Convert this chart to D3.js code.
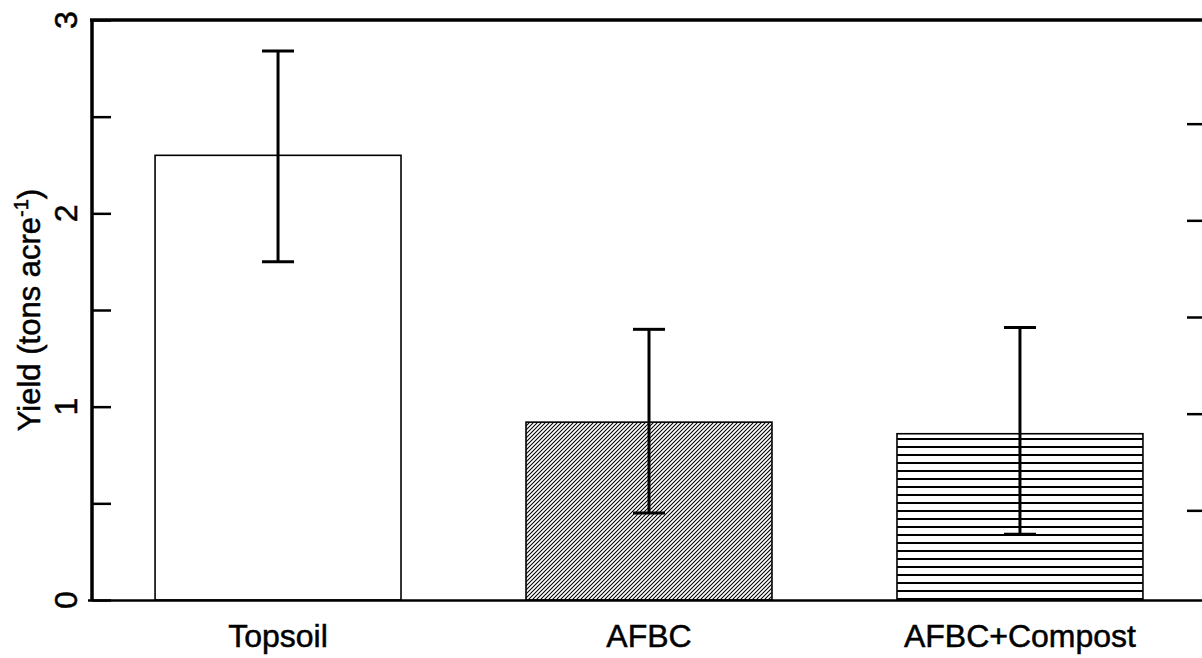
<!DOCTYPE html>
<html>
<head>
<meta charset="utf-8">
<script src="https://cdn.jsdelivr.net/npm/d3@7"></script>
<style>
  body { margin: 0; background: #fff; }
  text { font-family: "Liberation Sans", Arial, sans-serif; fill: #000; stroke: #000; stroke-width: 0.5px; }
</style>
</head>
<body>
<svg id="chart" width="1202" height="658"></svg>
<script>
var categories = ['Topsoil', 'AFBC', 'AFBC+Compost'];
var yields = [2.3, 0.92, 0.86];
var errLow = [1.75, 0.45, 0.34];
var errHigh = [2.84, 1.4, 1.41];
var fills = ['#fff', 'url(#diag)', 'url(#horiz)'];
var yTicks = [0, 1, 2, 3];
var yMinorTicks = [0.5, 1.5, 2.5];
var rightTicks = [0.5, 1, 1.5, 2, 2.5];

var svg = d3.select('#chart');

// hatch patterns
var defs = svg.append('defs');
var diag = defs.append('pattern')
  .attr('id', 'diag')
  .attr('patternUnits', 'userSpaceOnUse')
  .attr('width', 4).attr('height', 4);
diag.append('rect').attr('width', 4).attr('height', 4).attr('fill', '#fff');
diag.append('path')
  .attr('d', 'M-1,1 l2,-2 M0,4 l4,-4 M3,5 l2,-2')
  .attr('stroke', '#000').attr('stroke-width', 1.05);

var horiz = defs.append('pattern')
  .attr('id', 'horiz')
  .attr('patternUnits', 'userSpaceOnUse')
  .attr('width', 8).attr('height', 8)
  .attr('y', 3);
horiz.append('rect').attr('width', 8).attr('height', 8).attr('fill', '#fff');
horiz.append('line')
  .attr('x1', 0).attr('x2', 8).attr('y1', 4).attr('y2', 4)
  .attr('stroke', '#000').attr('stroke-width', 2);

var x = d3.scaleBand()
  .domain(categories)
  .range([92, 1206])
  .paddingInner(0.337)
  .paddingOuter(0.17);

var y = d3.scaleLinear().domain([0, 3]).range([600, 20]);
// the right-hand ticks sit a little lower in the original scan
var yRight = d3.scaleLinear().domain([0, 3]).range([607, 27]);

var data = categories.map(function(c, i) {
  return {name: c, v: yields[i], lo: errLow[i], hi: errHigh[i], fill: fills[i]};
});

// bars
svg.append('g')
  .selectAll('rect.bar')
  .data(data)
  .enter()
    .append('rect')
    .classed('bar', true)
    .attr('x', function(d) { return x(d.name); })
    .attr('y', function(d) { return y(d.v); })
    .attr('width', x.bandwidth())
    .attr('height', function(d) { return y(0) - y(d.v); })
    .attr('fill', function(d) { return d.fill; })
    .attr('stroke', '#000')
    .attr('stroke-width', 1.6);

// error bars
var eb = svg.append('g').attr('stroke', '#000').attr('stroke-width', 3);
data.forEach(function(d) {
  var cx = x(d.name) + x.bandwidth() / 2;
  eb.append('line').attr('x1', cx).attr('x2', cx).attr('y1', y(d.hi)).attr('y2', y(d.lo));
  eb.append('line').attr('x1', cx - 16).attr('x2', cx + 16).attr('y1', y(d.hi)).attr('y2', y(d.hi));
  eb.append('line').attr('x1', cx - 16).attr('x2', cx + 16).attr('y1', y(d.lo)).attr('y2', y(d.lo));
});

// left axis: inward ticks, rotated labels
var leftAxis = svg.append('g').attr('transform', 'translate(92,0)');
leftAxis.call(d3.axisRight(y).tickValues(yTicks.concat(yMinorTicks)).tickSize(19).tickFormat(''));
leftAxis.select('.domain').remove();
leftAxis.selectAll('.tick line').attr('stroke-width', 2.5);

svg.append('g')
  .selectAll('text.ylab')
  .data(yTicks)
  .enter()
    .append('text')
    .classed('ylab', true)
    .attr('transform', function(d) { return 'translate(77,' + y(d) + ') rotate(-90)'; })
    .attr('text-anchor', 'middle')
    .style('font-size', '32px')
    .text(function(d) { return d; });

// frame lines
svg.append('line').attr('x1', 92).attr('x2', 92).attr('y1', 19).attr('y2', 601)
  .attr('stroke', '#000').attr('stroke-width', 3.5);
svg.append('line').attr('x1', 90).attr('x2', 1202).attr('y1', 20).attr('y2', 20)
  .attr('stroke', '#000').attr('stroke-width', 3.5);
svg.append('line').attr('x1', 88).attr('x2', 1202).attr('y1', 600.5).attr('y2', 600.5)
  .attr('stroke', '#000').attr('stroke-width', 2.5);

// right-hand ticks
var rightAxis = svg.append('g').attr('transform', 'translate(1202,0)');
rightAxis.call(d3.axisLeft(yRight).tickValues(rightTicks).tickSize(15).tickFormat(''));
rightAxis.select('.domain').remove();
rightAxis.selectAll('.tick line').attr('stroke-width', 2.5);

// category labels
svg.append('g')
  .selectAll('text.xlab')
  .data(categories)
  .enter()
    .append('text')
    .classed('xlab', true)
    .attr('x', function(d) { return x(d) + x.bandwidth() / 2; })
    .attr('y', 647)
    .attr('text-anchor', 'middle')
    .style('font-size', '32px')
    .text(function(d) { return d; });

// y title
var title = svg.append('text')
  .attr('transform', 'translate(40,310) rotate(-90)')
  .attr('text-anchor', 'middle')
  .style('font-size', '31px');
title.append('tspan').text('Yield (tons acre');
title.append('tspan').attr('dy', -12).style('font-size', '20px').text('-1');
title.append('tspan').attr('dy', 12).text(')');
</script>
</body>
</html>
